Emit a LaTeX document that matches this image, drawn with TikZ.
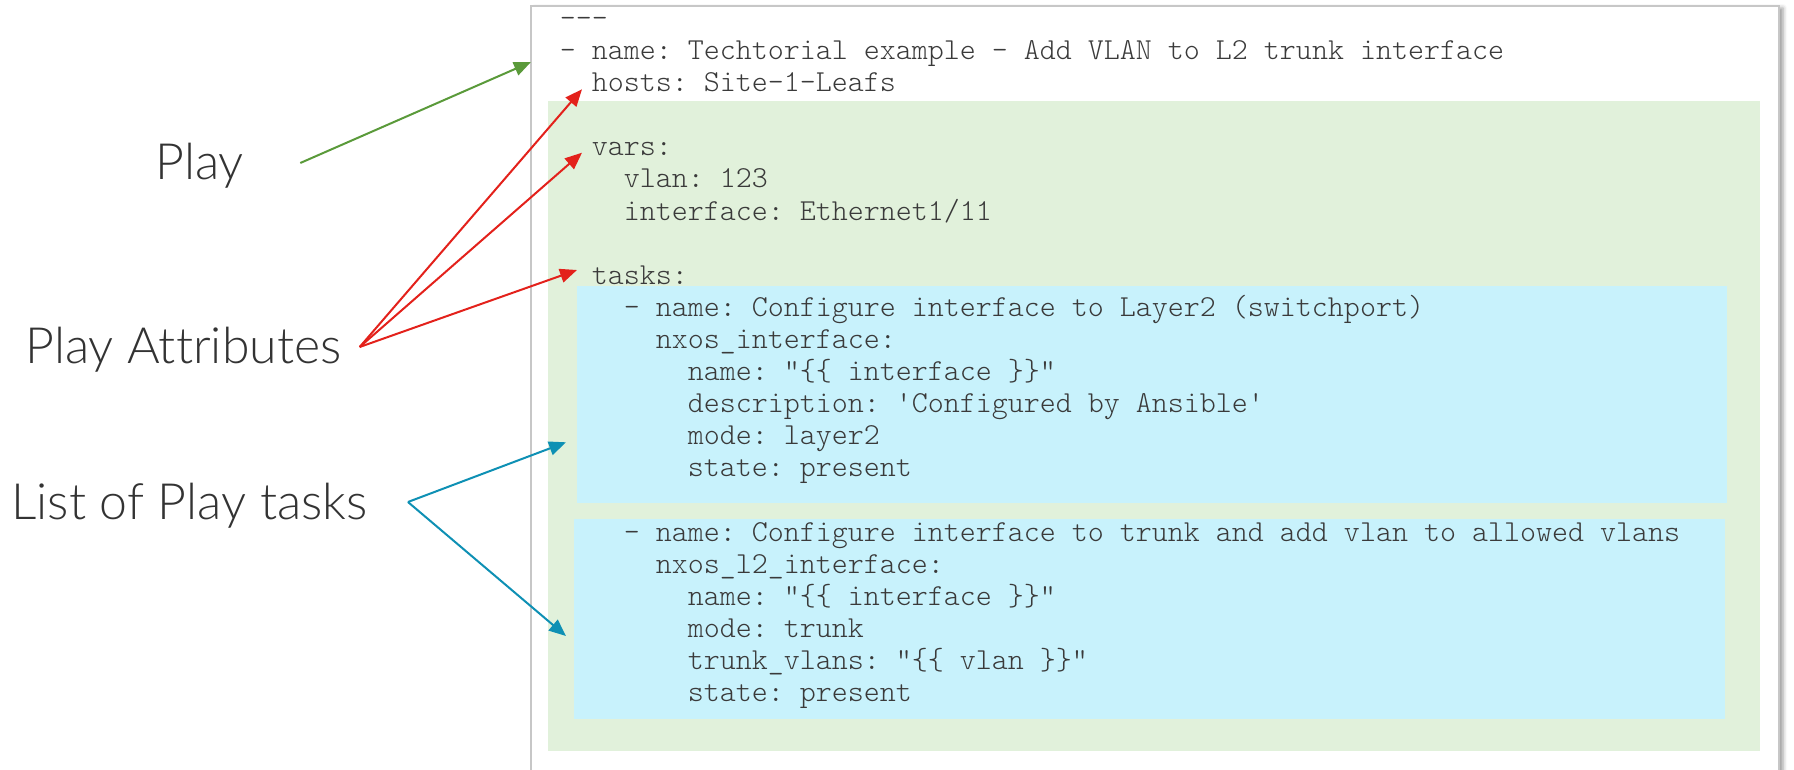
\documentclass[tikz,border=0pt]{standalone}
\usepackage{fontspec}
\setmainfont{Lato}[UprightFont={* Light}, Ligatures=NoCommon]
\setmonofont{lmmonolt10-regular.otf}
\usetikzlibrary{arrows.meta,shadows.blur}
\definecolor{playgreen}{HTML}{5A9A3A}
\definecolor{attrred}{HTML}{E3211B}
\definecolor{taskteal}{HTML}{0E90B4}
\definecolor{varsbg}{HTML}{E1F1DB}
\definecolor{taskbg}{HTML}{C8F2FC}
\definecolor{codegray}{HTML}{3A3A3A}

\begin{document}
\begin{tikzpicture}[
    x=0.5pt, y=-0.5pt,
    code/.style={anchor=base west, inner sep=0pt, font=\ttfamily\fontsize{15.24}{16}\selectfont, text=codegray},
    lbl/.style={anchor=base west, inner sep=0pt, font=\fontsize{25}{29}\selectfont, text=black!80},
    arr/.style={-{Triangle[length=8.5pt,width=7pt]}, line width=1pt}
]
\path[use as bounding box] (0,0) rectangle (1794,770);

% playbook frame and highlighted blocks
\begin{scope}
\clip (0,0) rectangle (1794,770);
\draw[draw=black!22, line width=1pt, fill=white,
      blur shadow={shadow xshift=2pt, shadow yshift=-1pt, shadow blur radius=2pt, shadow opacity=40}]
    (531,6) rectangle (1779,800);
\end{scope}
\fill[varsbg] (548,101) rectangle (1760,751);
\fill[taskbg] (577,286) rectangle (1727,503);
\fill[taskbg] (574,519) rectangle (1725,719);

% playbook text
\node[code] (sep) at (559.5,27.5) {-{}-{}-};
\node[code] (pname) at (559.5,59.6) {- name: Techtorial example - Add VLAN to L2 trunk interface};
\node[code] (hosts) at (591.5,91.7) {hosts: Site-1-Leafs};
\node[code] (vars) at (591.5,155.9) {vars:};
\node[code] (vlan) at (623.5,188) {vlan: 123};
\node[code] (iface) at (623.5,220.1) {interface: Ethernet1/11};
\node[code] (tasks) at (591.5,284.3) {tasks:};
\node[code] (t1name) at (623.5,316.4) {- name: Configure interface to Layer2 (switchport)};
\node[code] (t1mod) at (655.5,348.5) {nxos\_interface:};
\node[code] (t1a) at (687.5,380.6) {name: "\{\{ interface \}\}"};
\node[code] (t1b) at (687.5,412.7) {description: 'Configured by Ansible'};
\node[code] (t1c) at (687.5,444.8) {mode: layer2};
\node[code] (t1d) at (687.5,476.9) {state: present};
\node[code] (t2name) at (623.5,541.1) {- name: Configure interface to trunk and add vlan to allowed vlans};
\node[code] (t2mod) at (655.5,573.2) {nxos\_l2\_interface:};
\node[code] (t2a) at (687.5,605.3) {name: "\{\{ interface \}\}"};
\node[code] (t2b) at (687.5,637.4) {mode: trunk};
\node[code] (t2c) at (687.5,669.5) {trunk\_vlans: "\{\{ vlan \}\}”};
\node[code] (t2d) at (687.5,701.6) {state: present};

% labels
\node[lbl] (play) at (155,180) {Play};
\node[lbl] (attrs) at (25,364) {Play Attributes};
\node[lbl] (tasklist) at (11,519) {List of Play tasks};

% arrow ends
\coordinate (playtip) at (531,62);
\coordinate (hoststip) at (582,89.3);
\coordinate (varstip) at (582,152.7);
\coordinate (taskstip) at (577,270);
\coordinate (task1tip) at (566,442.3);
\coordinate (task2tip) at (566,636);

\draw[arr, playgreen] ([shift={(56,-17)}]play.base east) -- (playtip);
\draw[arr, attrred] ([shift={(18,-17)}]attrs.base east) -- (hoststip);
\draw[arr, attrred] ([shift={(18,-17)}]attrs.base east) -- (varstip);
\draw[arr, attrred] ([shift={(18,-17)}]attrs.base east) -- (taskstip);
\draw[arr, taskteal] ([shift={(40,-17)}]tasklist.base east) -- (task1tip);
\draw[arr, taskteal] ([shift={(40,-17)}]tasklist.base east) -- (task2tip);
\end{tikzpicture}
\end{document}
